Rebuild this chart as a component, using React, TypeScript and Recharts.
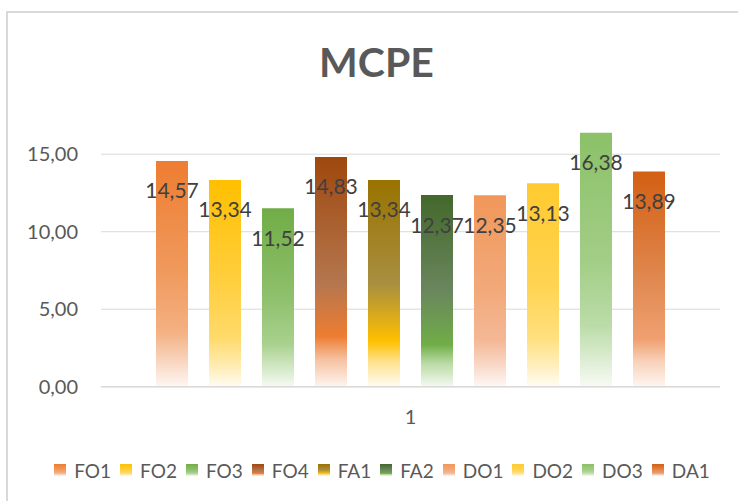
import { Bar, BarChart, CartesianGrid, LabelList, XAxis, YAxis } from 'recharts'

const categories = ['1']
const seriesNames = ['FO1', 'FO2', 'FO3', 'FO4', 'FA1', 'FA2', 'DO1', 'DO2', 'DO3', 'DA1']
const seriesValues = [14.57, 13.34, 11.52, 14.83, 13.34, 12.37, 12.35, 13.13, 16.38, 13.89]
const yTicks = [0, 5, 10, 15]

// gradient stops per series [offset, color]
const gradients: [number, string][][] = [
  [[0, '#ED7D31'], [0.5, '#F09A5E'], [0.76, '#F4B183'], [0.88, '#F8D3BC'], [1, '#FEF7F3']],
  [[0, '#FFC000'], [0.5, '#FFCF40'], [0.76, '#FFDA6A'], [0.88, '#FFE9A8'], [1, '#FFFCF2']],
  [[0, '#70AD47'], [0.5, '#8FC06C'], [0.76, '#A9D18E'], [0.88, '#CFE6C0'], [1, '#F6FAF3']],
  [[0, '#9E480E'], [0.55, '#B5764E'], [0.78, '#ED7D31'], [0.88, '#F6C0A0'], [1, '#FEF5F0']],
  [[0, '#997300'], [0.5, '#A88E40'], [0.78, '#FFC000'], [0.88, '#FFE28E'], [1, '#FFFCF2']],
  [[0, '#43682B'], [0.5, '#6A865E'], [0.78, '#70AD47'], [0.88, '#BADCA6'], [1, '#F4F9F1']],
  [[0, '#F1975A'], [0.5, '#F2A97A'], [0.76, '#F4B896'], [0.88, '#F8D6C4'], [1, '#FEF8F5']],
  [[0, '#FFCA2F'], [0.5, '#FFD452'], [0.76, '#FFDF7E'], [0.88, '#FFEDB5'], [1, '#FFFCF3']],
  [[0, '#8BC168'], [0.5, '#A2CD86'], [0.76, '#BBDCA8'], [0.88, '#D9EBCE'], [1, '#F7FBF5']],
  [[0, '#D35F12'], [0.5, '#E08850'], [0.78, '#F0A070'], [0.88, '#F8D0B8'], [1, '#FEF6F1']],
]

const data = categories.map((c) => {
  const row: Record<string, string | number> = { name: c }
  seriesNames.forEach((s, i) => (row[s] = seriesValues[i]))
  return row
})

const fmt = (v: number) => v.toFixed(2).replace('.', ',')

const FONT = 'Lato, "Open Sans", sans-serif'

function BarLabel(props: any) {
  const { x, y, width, value } = props
  return (
    <text
      x={x + width / 2}
      y={y + 29}
      textAnchor="middle"
      dominantBaseline="central"
      fill="#404040"
      style={{ fontFamily: FONT, fontSize: 21 }}
    >
      {fmt(Number(value))}
    </text>
  )
}

export default function App() {
  return (
    <div
      style={{
        position: 'absolute',
        left: 0,
        top: 0,
        width: 738,
        height: 501,
        overflow: 'hidden',
        background: '#fff',
        fontFamily: FONT,
      }}
    >
      <div
        style={{
          position: 'absolute',
          left: 6,
          top: 11,
          width: 760,
          height: 600,
          border: '2px solid #d9d9d9',
        }}
      />
      <div
        style={{
          position: 'absolute',
          left: 0,
          width: 753,
          top: 37,
          textAlign: 'center',
          fontSize: 41,
          fontWeight: 700,
          color: '#595959',
          lineHeight: '50px',
        }}
      >
        MCPE
      </div>
      <BarChart
        width={738}
        height={501}
        data={data}
        margin={{ top: 115.5, right: 18, left: 0, bottom: 84.3 }}
        barSize={32}
        barGap={21}
        style={{ position: 'absolute', left: 0, top: 0 }}
      >
        <defs>
          {gradients.map((g, i) => (
            <linearGradient key={i} id={`grad-${i}`} x1="0" y1="0" x2="0" y2="1">
              {g.map(([o, c], j) => (
                <stop key={j} offset={o} stopColor={c} />
              ))}
            </linearGradient>
          ))}
        </defs>
        <CartesianGrid stroke="#d9d9d9" vertical={false} horizontalValues={yTicks} />
        <XAxis
          dataKey="name"
          axisLine={{ stroke: '#d9d9d9', strokeWidth: 1.5 }}
          tickLine={false}
          tickSize={0}
          tickMargin={23}
          height={30}
          tick={{ fill: '#595959', fontSize: 20, fontFamily: FONT }}
        />
        <YAxis
          domain={[0, 17.5]}
          ticks={yTicks}
          allowDataOverflow
          width={101}
          axisLine={false}
          tickLine={false}
          tickSize={0}
          tickMargin={23}
          tickFormatter={(v: number) => fmt(v)}
          tick={{ fill: '#595959', fontSize: 20, fontFamily: FONT }}
        />
        {seriesNames.map((s, i) => (
          <Bar key={s} dataKey={s} fill={`url(#grad-${i})`} isAnimationActive={false}>
            <LabelList dataKey={s} content={BarLabel} />
          </Bar>
        ))}
      </BarChart>
      <div
        style={{
          position: 'absolute',
          left: 0,
          width: 764,
          top: 458,
          height: 24,
          display: 'flex',
          justifyContent: 'center',
          alignItems: 'center',
          gap: 9,
          fontSize: 19,
          color: '#595959',
        }}
      >
        {seriesNames.map((s, i) => (
          <span key={s} style={{ display: 'flex', alignItems: 'center' }}>
            <span
              style={{
                display: 'inline-block',
                width: 12,
                height: 12,
                marginRight: 8,
                background: `linear-gradient(to bottom, ${gradients[i]
                  .map(([o, c]) => `${c} ${o * 100}%`)
                  .join(', ')})`,
              }}
            />
            {s}
          </span>
        ))}
      </div>
    </div>
  )
}
